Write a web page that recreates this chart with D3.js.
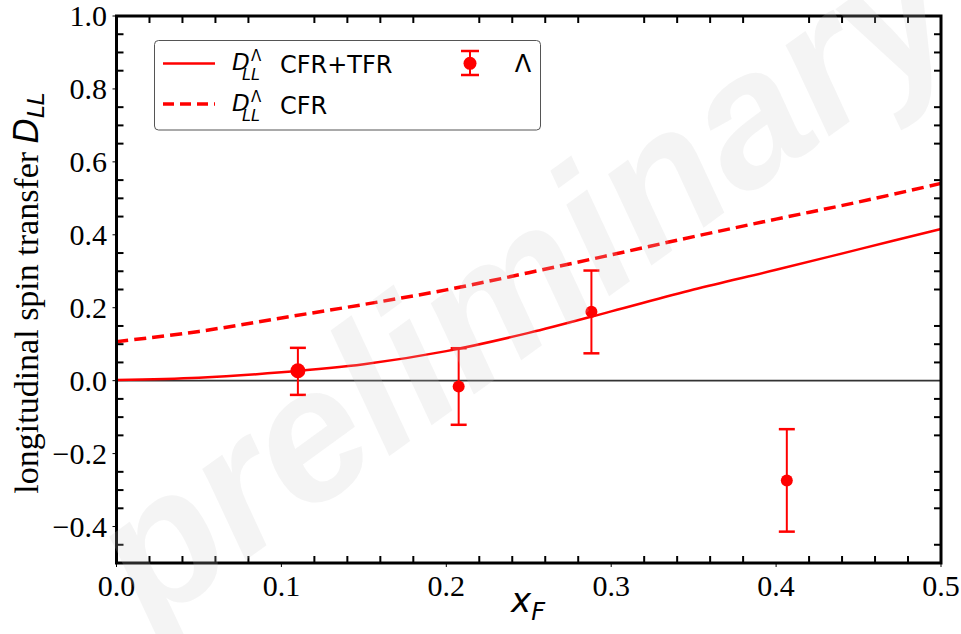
<!DOCTYPE html>
<html><head><meta charset="utf-8">
<script src="https://cdn.jsdelivr.net/npm/d3@7"></script>
<style>body{margin:0;background:#fff}svg{display:block}</style>
</head><body>
<svg id="c" width="961" height="634"></svg>
<script>
// ---- data ----
const xGrid   = [0, 0.05, 0.1, 0.15, 0.2, 0.25, 0.3, 0.35, 0.4, 0.45, 0.5];
const cfrTfr  = [0.002, 0.008, 0.023, 0.045, 0.081, 0.131, 0.190, 0.250, 0.304, 0.360, 0.416];
const cfrOnly = [0.107, 0.135, 0.172, 0.209, 0.249, 0.296, 0.345, 0.395, 0.443, 0.490, 0.541];
const lamX  = [0.110, 0.2075, 0.288, 0.4065];
const lamY  = [0.027, -0.016, 0.189, -0.274];
const lamLo = [-0.039, -0.121, 0.075, -0.414];
const lamHi = [0.090, 0.089, 0.302, -0.133];
const xTicks = [0, 0.1, 0.2, 0.3, 0.4, 0.5];
const yTicks = [-0.4, -0.2, 0, 0.2, 0.4, 0.6, 0.8, 1.0];

const svg = d3.select('#c');
const L = 116.5, R = 941, T = 16, B = 563;
const x = d3.scaleLinear().domain([0, 0.5]).range([L, R]);
const y = d3.scaleLinear().domain([-0.5, 1.0]).range([B, T]);
const RED = '#ff0000';
const serif = "'Liberation Serif','Times New Roman',serif";
const sans = "'DejaVu Sans',sans-serif";

// zero line
svg.append('line').attr('x1', L).attr('x2', R).attr('y1', y(0)).attr('y2', y(0))
  .attr('stroke', '#333').attr('stroke-width', 1.6);

// curves
const line = d3.line().x((d, i) => x(xGrid[i])).y(d => y(d)).curve(d3.curveCatmullRom.alpha(0.5));
svg.append('path').attr('d', line(cfrOnly)).attr('fill', 'none').attr('stroke', RED)
  .attr('stroke-width', 3.5).attr('stroke-dasharray', '12,6');
svg.append('path').attr('d', line(cfrTfr)).attr('fill', 'none').attr('stroke', RED)
  .attr('stroke-width', 2.5);

// error bars
const pts = lamX.map((v, i) => ({x: v, y: lamY[i], lo: lamLo[i], hi: lamHi[i], i}));
const g = svg.append('g');
pts.forEach(p => {
  g.append('line').attr('x1', x(p.x)).attr('x2', x(p.x)).attr('y1', y(p.lo)).attr('y2', y(p.hi))
    .attr('stroke', RED).attr('stroke-width', 2);
  [p.lo, p.hi].forEach(v => g.append('line').attr('x1', x(p.x) - 8).attr('x2', x(p.x) + 8)
    .attr('y1', y(v)).attr('y2', y(v)).attr('stroke', RED).attr('stroke-width', 2.5));
  g.append('circle').attr('cx', x(p.x)).attr('cy', y(p.y)).attr('r', p.i === 0 ? 7.5 : 6).attr('fill', RED);
});

// axes ticks
const minorX = d3.range(0, 0.5001, 0.02).filter(v => Math.abs(v * 10 - Math.round(v * 10)) > 1e-6);
const minorY = d3.range(-0.5, 1.0001, 0.05).filter(v => Math.abs(v * 5 - Math.round(v * 5)) > 1e-6);
const tk = svg.append('g').attr('stroke', '#000');
minorX.forEach(v => {
  tk.append('line').attr('x1', x(v)).attr('x2', x(v)).attr('y1', B).attr('y2', B - 7).attr('stroke-width', 2);
  tk.append('line').attr('x1', x(v)).attr('x2', x(v)).attr('y1', T).attr('y2', T + 7).attr('stroke-width', 2);
});
minorY.forEach(v => {
  tk.append('line').attr('y1', y(v)).attr('y2', y(v)).attr('x1', L).attr('x2', L + 7).attr('stroke-width', 2);
  tk.append('line').attr('y1', y(v)).attr('y2', y(v)).attr('x1', R).attr('x2', R - 7).attr('stroke-width', 2);
});
xTicks.forEach(v => {
  tk.append('line').attr('x1', x(v)).attr('x2', x(v)).attr('y1', B).attr('y2', B + 4).attr('stroke-width', 1);
  svg.append('text').attr('x', x(v)).attr('y', 596).attr('text-anchor', 'middle')
    .attr('font-family', serif).attr('font-size', 30).text(d3.format('.1f')(v));
});
yTicks.forEach(v => {
  tk.append('line').attr('y1', y(v)).attr('y2', y(v)).attr('x1', L).attr('x2', L - 4).attr('stroke-width', 1);
  svg.append('text').attr('x', 107).attr('y', y(v) + 10).attr('text-anchor', 'end')
    .attr('font-family', serif).attr('font-size', 30).text(d3.format('.1f')(v).replace('-', '\u2212'));
});
// frame
svg.append('rect').attr('x', L).attr('y', T).attr('width', R - L).attr('height', B - T)
  .attr('fill', 'none').attr('stroke', '#000').attr('stroke-width', 3);

// axis labels
const yl = svg.append('text').attr('transform', 'translate(38,293) rotate(-90)')
  .attr('text-anchor', 'middle').attr('font-family', serif).attr('font-size', 34);
yl.append('tspan').text('longitudinal spin transfer ');
yl.append('tspan').attr('font-family', sans).attr('font-style', 'italic').attr('font-size', 33).text('D');
yl.append('tspan').attr('font-family', sans).attr('font-style', 'italic').attr('font-size', 23).attr('dy', 6).text('LL');

const xl = svg.append('text').attr('x', 528).attr('y', 612).attr('text-anchor', 'middle')
  .attr('font-family', sans).attr('font-style', 'italic').attr('font-size', 34);
xl.append('tspan').text('x');
xl.append('tspan').attr('font-size', 24).attr('dy', 8).text('F');

// legend
const lg = svg.append('g');
lg.append('rect').attr('x', 154.5).attr('y', 40.5).attr('width', 386).attr('height', 89.5).attr('rx', 4)
  .attr('fill', '#fff').attr('fill-opacity', 0.85).attr('stroke', '#555').attr('stroke-width', 1);
lg.append('line').attr('x1', 163).attr('x2', 215).attr('y1', 63.5).attr('y2', 63.5).attr('stroke', RED).attr('stroke-width', 2.7);
lg.append('line').attr('x1', 163).attr('x2', 215).attr('y1', 104).attr('y2', 104).attr('stroke', RED)
  .attr('stroke-width', 3.5).attr('stroke-dasharray', '11,6');
[[73.3, 'CFR+TFR'], [113.5, 'CFR']].forEach(([by, t]) => {
  lg.append('text').attr('x', 232).attr('y', by - 3).attr('font-family', sans).attr('font-style', 'italic').attr('font-size', 23).text('D');
  lg.append('text').attr('x', 251).attr('y', by - 12).attr('font-family', sans).attr('font-size', 15).text('\u039B');
  lg.append('text').attr('x', 242).attr('y', by + 7).attr('font-family', sans).attr('font-style', 'italic').attr('font-size', 16).text('LL');
  lg.append('text').attr('x', 280).attr('y', by).attr('font-family', sans).attr('font-size', 24).text(t);
});
lg.append('line').attr('x1', 470).attr('x2', 470).attr('y1', 51).attr('y2', 75).attr('stroke', RED).attr('stroke-width', 2);
[51, 75].forEach(v => lg.append('line').attr('x1', 461).attr('x2', 479).attr('y1', v).attr('y2', v).attr('stroke', RED).attr('stroke-width', 2.5));
lg.append('circle').attr('cx', 470).attr('cy', 63.3).attr('r', 6.5).attr('fill', RED);
lg.append('text').attr('x', 523).attr('y', 72).attr('text-anchor', 'middle').attr('font-family', sans).attr('font-size', 24).text('\u039B');

// watermark
svg.append('text').attr('transform', 'translate(560,332) rotate(-36)').attr('text-anchor', 'middle')
  .attr('font-family', "'Liberation Sans',Arial,sans-serif").attr('font-weight', 'bold').attr('font-style', 'italic')
  .attr('font-size', 188).attr('fill', '#c8c8c8').attr('fill-opacity', 0.2).text('preliminary');
</script>
</body></html>
